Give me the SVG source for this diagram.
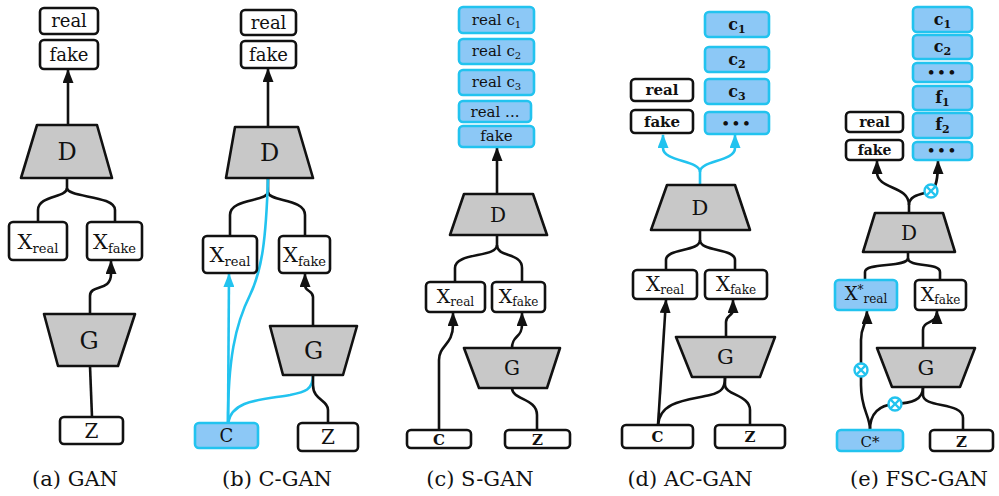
<svg xmlns="http://www.w3.org/2000/svg" xmlns:xlink="http://www.w3.org/1999/xlink" width="999" height="496" viewBox="0 0 999 496">
<style>
.bx{fill:#fff;stroke:#111;stroke-width:2.6}
.bb{fill:#8cc8f6;stroke:#22c3ef;stroke-width:2.6}
.tr{fill:#c8c8c8;stroke:#111;stroke-width:2.6;stroke-linejoin:round}
.t{font-family:"DejaVu Serif","Liberation Serif",serif;fill:#111;text-anchor:middle}
.tb{font-family:"DejaVu Serif","Liberation Serif",serif;font-weight:bold;fill:#111;text-anchor:middle}
.cap{font-family:"DejaVu Serif","Liberation Serif",serif;font-size:21px;fill:#111;text-anchor:middle}
.k{fill:none;stroke:#111;stroke-width:2.6}
.c{fill:none;stroke:#22c3ef;stroke-width:2.6}
.ka{fill:none;stroke:#111;stroke-width:2.6;marker-end:url(#ak)}
.ca{fill:none;stroke:#22c3ef;stroke-width:2.6;marker-end:url(#ac)}
</style>
<defs>
<marker id="ak" markerUnits="userSpaceOnUse" markerWidth="14" markerHeight="11" viewBox="0 0 14 11" refX="13" refY="5.5" orient="auto"><path d="M0,0 L14,5.5 L0,11 Z" fill="#111"/></marker>
<marker id="ac" markerUnits="userSpaceOnUse" markerWidth="14" markerHeight="11" viewBox="0 0 14 11" refX="13" refY="5.5" orient="auto"><path d="M0,0 L14,5.5 L0,11 Z" fill="#22c3ef"/></marker>
<g id="otimes"><circle cx="0" cy="0" r="6.5" fill="#fff" stroke="#22c3ef" stroke-width="2.4"/><path d="M-4.4,-4.4 L4.4,4.4 M4.4,-4.4 L-4.4,4.4" stroke="#22c3ef" stroke-width="2.2"/></g>
</defs>

<!-- connectors -->
<g id="connectors">
<!-- (a) -->
<path class="ka" d="M68,125 L68,70"/>
<path class="k" d="M67,178 L67,188 C67,198 38,195 38,210 L38,222"/>
<path class="k" d="M67,188 C67,198 115,195 115,210 L115,222"/>
<path class="ka" d="M90,314 L90,296 C90,284 111,292 111,274 L111,261"/>
<path class="k" d="M90,366 L92,417"/>
<!-- (b) -->
<path class="ka" d="M268,127 L268,69"/>
<path class="k" d="M268,178 L268,192 C268,202 230,198 230,215 L230,236"/>
<path class="k" d="M268,192 C268,202 305,198 305,215 L305,236"/>
<path class="c" d="M268,178 C266,240 262,270 250,295 C235,325 228,360 228,423"/>
<path class="ca" d="M228,423 L229,274"/>
<path class="c" d="M228,423 C232,400 260,400 290,395 C305,392 313,390 313,375"/>
<path class="ka" d="M313,326 L313,297 C313,290 305,292 305,285 L305,274"/>
<path class="k" d="M313,375 L313,385 C313,400 328,400 328,410 L328,423"/>
<!-- (c) -->
<path class="ka" d="M497,194 L497,148"/>
<path class="k" d="M497,235 L497,245 C497,258 455,252 455,268 L455,282"/>
<path class="k" d="M497,245 C497,258 522,252 522,268 L522,282"/>
<path class="ka" d="M439,430 L439,360 C439,345 453,345 453,325 L453,313"/>
<path class="ka" d="M512,348 C512,335 522,338 522,325 L522,313"/>
<path class="k" d="M512,388 C512,400 537,398 537,415 L537,430"/>
<!-- (d) -->
<path class="ca" d="M700,185 L700,172 C700,160 663,162 663,148 L663,135"/>
<path class="ca" d="M700,172 C700,160 735,162 735,148 L735,135"/>
<path class="k" d="M700,230 L700,240 C700,252 666,248 666,260 L666,270"/>
<path class="k" d="M700,240 C700,252 735,248 735,260 L735,270"/>
<path class="ka" d="M658,425 L666,300"/>
<path class="ka" d="M726,337 L726,322 C726,315 733,316 733,310 L733,300"/>
<path class="k" d="M658,425 C660,400 690,400 710,395 C722,392 725,388 725,377"/>
<path class="k" d="M725,377 L725,385 C725,395 750,395 750,410 L750,425"/>
<!-- (e) -->
<path class="ka" d="M909,213 L909,205 C909,185 877,190 877,172 L877,161"/>
<path class="ka" d="M909,205 C909,194 925,194 931,191 C936,188 938,180 938,161"/>
<path class="k" d="M908,252 L908,258 C908,268 865,262 865,272 L865,280"/>
<path class="k" d="M908,258 C908,268 940,262 940,272 L940,280"/>
<path class="ka" d="M870,430 C870,415 861,410 861,385 L861,340 C861,325 867,325 867,311"/>
<path class="k" d="M870,430 C870,412 880,405 895,404 C912,403 923,400 923,387"/>
<path class="k" d="M923,387 L923,395 C923,408 963,402 963,418 L963,430"/>
<path class="ka" d="M923,348 L923,330 C923,320 937,325 937,311"/>
<use xlink:href="#otimes" x="931" y="191"/>
<use xlink:href="#otimes" x="861" y="370"/>
<use xlink:href="#otimes" x="895" y="404"/>
</g>

<!-- (a) GAN -->
<g id="a-real"><rect class="bx" x="40" y="8" width="58" height="26" rx="4"/><text class="t" x="69" y="27" font-size="18">real</text></g>
<g id="a-fake"><rect class="bx" x="40" y="40" width="58" height="29" rx="4"/><text class="t" x="69" y="61" font-size="18">fake</text></g>
<g id="a-D"><path class="tr" d="M37,125 L97,125 L112,178 L21,178 Z"/><text class="t" x="67" y="160" font-size="24">D</text></g>
<g id="a-xreal"><rect class="bx" x="9" y="222" width="58" height="38" rx="4"/><text class="t" x="38" y="249" font-size="21">X<tspan font-size="13" dy="4">real</tspan></text></g>
<g id="a-xfake"><rect class="bx" x="87" y="222" width="55" height="38" rx="4"/><text class="t" x="114.5" y="249" font-size="21">X<tspan font-size="13" dy="4">fake</tspan></text></g>
<g id="a-G"><path class="tr" d="M44,314 L135,314 L118,366 L58,366 Z"/><text class="t" x="89" y="349" font-size="24">G</text></g>
<g id="a-Z"><rect class="bx" x="60" y="417" width="63" height="27" rx="4"/><text class="t" x="91.5" y="438" font-size="20">Z</text></g>
<text class="cap" x="75" y="486">(a) GAN</text>

<!-- (b) C-GAN -->
<g id="b-real"><rect class="bx" x="241" y="10" width="55" height="25" rx="4"/><text class="t" x="268.5" y="29" font-size="18">real</text></g>
<g id="b-fake"><rect class="bx" x="241" y="41" width="55" height="27" rx="4"/><text class="t" x="268.5" y="61" font-size="18">fake</text></g>
<g id="b-D"><path class="tr" d="M235,127 L298,127 L313,178 L226,178 Z"/><text class="t" x="269.5" y="161" font-size="24">D</text></g>
<g id="b-xreal"><rect class="bx" x="203" y="236" width="54" height="37" rx="4"/><text class="t" x="230" y="262" font-size="21">X<tspan font-size="13" dy="4">real</tspan></text></g>
<g id="b-xfake"><rect class="bx" x="279" y="236" width="51" height="37" rx="4"/><text class="t" x="304.5" y="262" font-size="21">X<tspan font-size="13" dy="4">fake</tspan></text></g>
<g id="b-G"><path class="tr" d="M270,326 L357,326 L343,375 L283,375 Z"/><text class="t" x="313.5" y="359" font-size="24">G</text></g>
<g id="b-C"><rect class="bb" x="195" y="423" width="63" height="25" rx="4"/><text class="t" x="226.5" y="442" font-size="18">C</text></g>
<g id="b-Z"><rect class="bx" x="298" y="423" width="60" height="28" rx="4"/><text class="t" x="328" y="444" font-size="20">Z</text></g>
<text class="cap" x="277" y="486">(b) C-GAN</text>

<!-- (c) S-GAN -->
<g id="c-rc1"><rect class="bb" x="459" y="7" width="75" height="26" rx="4"/><text class="t" x="496.5" y="25" font-size="15">real c<tspan font-size="10" dy="3">1</tspan></text></g>
<g id="c-rc2"><rect class="bb" x="459" y="39" width="75" height="25" rx="4"/><text class="t" x="496.5" y="56" font-size="15">real c<tspan font-size="10" dy="3">2</tspan></text></g>
<g id="c-rc3"><rect class="bb" x="459" y="70" width="75" height="25" rx="4"/><text class="t" x="496.5" y="87" font-size="15">real c<tspan font-size="10" dy="3">3</tspan></text></g>
<g id="c-rdots"><rect class="bb" x="459" y="101" width="72" height="21" rx="4"/><text class="t" x="495" y="117" font-size="15">real ...</text></g>
<g id="c-fake"><rect class="bb" x="459" y="126" width="75" height="21" rx="4"/><text class="t" x="496.5" y="141" font-size="15">fake</text></g>
<g id="c-D"><path class="tr" d="M464,194 L533,194 L547,235 L450,235 Z"/><text class="t" x="498" y="222" font-size="20">D</text></g>
<g id="c-xreal"><rect class="bx" x="426" y="282" width="59" height="30" rx="4"/><text class="t" x="455.5" y="303" font-size="19">X<tspan font-size="12" dy="3">real</tspan></text></g>
<g id="c-xfake"><rect class="bx" x="492" y="282" width="53" height="30" rx="4"/><text class="t" x="518.5" y="303" font-size="19">X<tspan font-size="12" dy="3">fake</tspan></text></g>
<g id="c-G"><path class="tr" d="M464,348 L560,348 L547,388 L479,388 Z"/><text class="t" x="512" y="375" font-size="20">G</text></g>
<g id="c-C"><rect class="bx" x="407" y="430" width="64" height="18" rx="4"/><text class="tb" x="439" y="445" font-size="15">C</text></g>
<g id="c-Z"><rect class="bx" x="505" y="430" width="65" height="18" rx="4"/><text class="tb" x="537.5" y="445" font-size="15">Z</text></g>
<text class="cap" x="480" y="486">(c) S-GAN</text>

<!-- (d) AC-GAN -->
<g id="d-c1"><rect class="bb" x="705" y="12" width="64" height="25" rx="4"/><text class="tb" x="737" y="30" font-size="16">c<tspan font-size="11" dy="3">1</tspan></text></g>
<g id="d-c2"><rect class="bb" x="705" y="47" width="64" height="25" rx="4"/><text class="tb" x="737" y="65" font-size="16">c<tspan font-size="11" dy="3">2</tspan></text></g>
<g id="d-c3"><rect class="bb" x="705" y="79" width="64" height="25" rx="4"/><text class="tb" x="737" y="97" font-size="16">c<tspan font-size="11" dy="3">3</tspan></text></g>
<g id="d-dots"><rect class="bb" x="705" y="112" width="64" height="22" rx="4"/><text class="tb" x="737" y="128" font-size="13" letter-spacing="2">•••</text></g>
<g id="d-real"><rect class="bx" x="631" y="79" width="62" height="22" rx="4"/><text class="tb" x="662" y="95" font-size="15">real</text></g>
<g id="d-fake"><rect class="bx" x="631" y="110" width="62" height="23" rx="4"/><text class="tb" x="662" y="127" font-size="15">fake</text></g>
<g id="d-D"><path class="tr" d="M667,185 L735,185 L750,230 L651,230 Z"/><text class="t" x="700" y="215" font-size="21">D</text></g>
<g id="d-xreal"><rect class="bx" x="633" y="270" width="64" height="29" rx="4"/><text class="t" x="665" y="291" font-size="20">X<tspan font-size="12" dy="3">real</tspan></text></g>
<g id="d-xfake"><rect class="bx" x="705" y="270" width="62" height="29" rx="4"/><text class="t" x="736" y="291" font-size="20">X<tspan font-size="12" dy="3">fake</tspan></text></g>
<g id="d-G"><path class="tr" d="M676,337 L775,337 L760,377 L692,377 Z"/><text class="t" x="725.5" y="364" font-size="21">G</text></g>
<g id="d-C"><rect class="bx" x="622" y="425" width="71" height="23" rx="4"/><text class="tb" x="657.5" y="442" font-size="15">C</text></g>
<g id="d-Z"><rect class="bx" x="715" y="425" width="70" height="23" rx="4"/><text class="tb" x="750" y="442" font-size="15">Z</text></g>
<text class="cap" x="690" y="486">(d) AC-GAN</text>

<!-- (e) FSC-GAN -->
<g id="e-c1"><rect class="bb" x="913" y="7" width="59" height="25" rx="4"/><text class="tb" x="942.5" y="25" font-size="16">c<tspan font-size="11" dy="3">1</tspan></text></g>
<g id="e-c2"><rect class="bb" x="913" y="35" width="59" height="24" rx="4"/><text class="tb" x="942.5" y="52" font-size="16">c<tspan font-size="11" dy="3">2</tspan></text></g>
<g id="e-dots1"><rect class="bb" x="913" y="63" width="59" height="19" rx="4"/><text class="tb" x="942.5" y="77" font-size="13" letter-spacing="2">•••</text></g>
<g id="e-f1"><rect class="bb" x="913" y="86" width="59" height="24" rx="4"/><text class="tb" x="942.5" y="103" font-size="16">f<tspan font-size="11" dy="3">1</tspan></text></g>
<g id="e-f2"><rect class="bb" x="913" y="113" width="59" height="25" rx="4"/><text class="tb" x="942.5" y="130" font-size="16">f<tspan font-size="11" dy="3">2</tspan></text></g>
<g id="e-dots2"><rect class="bb" x="913" y="142" width="59" height="18" rx="4"/><text class="tb" x="942.5" y="155" font-size="13" letter-spacing="2">•••</text></g>
<g id="e-real"><rect class="bx" x="846" y="112" width="57" height="20" rx="4"/><text class="tb" x="874.5" y="127" font-size="14">real</text></g>
<g id="e-fake"><rect class="bx" x="846" y="140" width="57" height="20" rx="4"/><text class="tb" x="874.5" y="155" font-size="14">fake</text></g>
<g id="e-D"><path class="tr" d="M875,213 L943,213 L955,252 L863,252 Z"/><text class="t" x="909" y="240" font-size="20">D</text></g>
<g id="e-xreal"><rect class="bb" x="835" y="280" width="62" height="30" rx="4"/><text class="t" x="866" y="300" font-size="18">X<tspan font-size="12" dy="-6">*</tspan><tspan font-size="12" dy="9">real</tspan></text></g>
<g id="e-xfake"><rect class="bx" x="915" y="280" width="51" height="30" rx="4"/><text class="t" x="940.5" y="301" font-size="19">X<tspan font-size="12" dy="3">fake</tspan></text></g>
<g id="e-G"><path class="tr" d="M877,348 L975,348 L960,387 L892,387 Z"/><text class="t" x="926" y="375" font-size="21">G</text></g>
<g id="e-C"><rect class="bb" x="837" y="430" width="66" height="21" rx="4"/><text class="t" x="870" y="447" font-size="15">C*</text></g>
<g id="e-Z"><rect class="bx" x="930" y="430" width="63" height="21" rx="4"/><text class="tb" x="961.5" y="447" font-size="15">Z</text></g>
<text class="cap" x="919" y="486">(e) FSC-GAN</text>
</svg>
